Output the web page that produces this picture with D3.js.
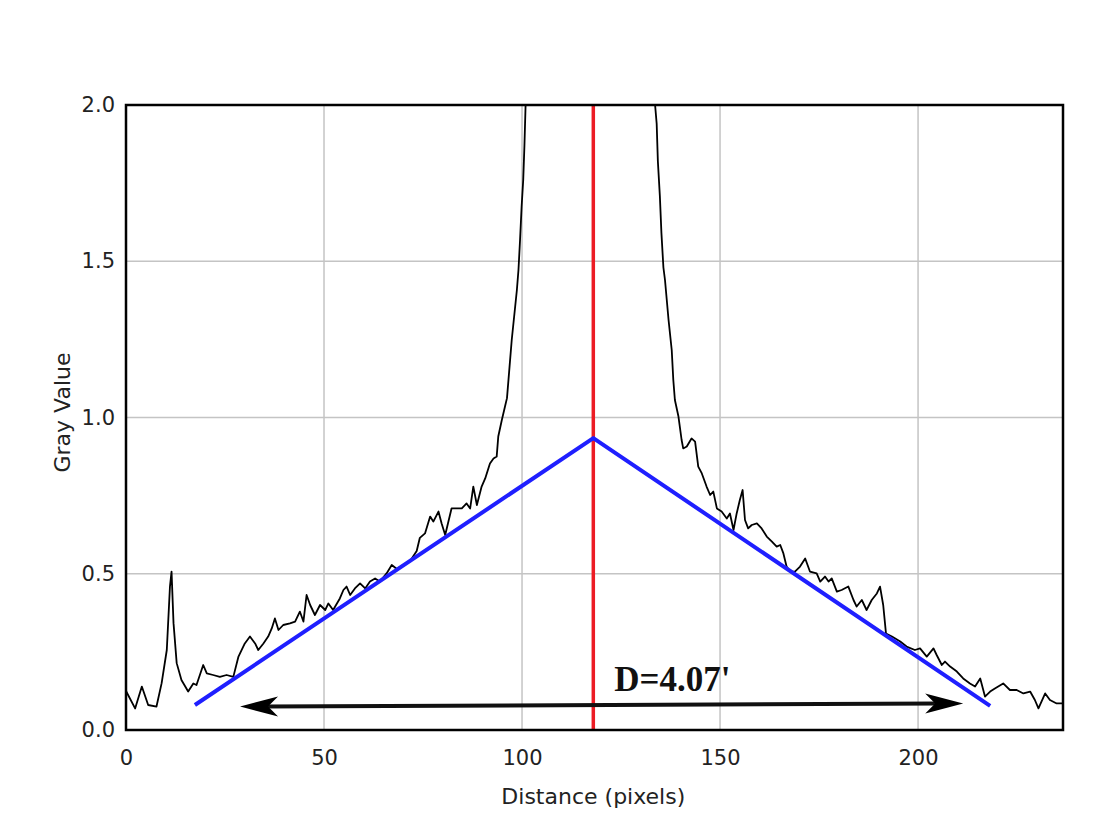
<!DOCTYPE html>
<html>
<head>
<meta charset="utf-8">
<script src="https://cdn.jsdelivr.net/npm/d3@7"></script>
<style>
  body { margin: 0; background: #fff; }
  .tick text { font-family: "DejaVu Sans", sans-serif; font-size: 21px; fill: #222; }
  .axisTitle { font-family: "DejaVu Sans", sans-serif; font-size: 22px; fill: #222; }
</style>
</head>
<body>
<div class="chartWrap"></div>
<script>
const profileX = [0, 2.3, 4, 5.6, 7.7, 9, 10.3, 11.1, 11.5, 12, 12.8, 14, 15.7, 17, 17.8, 19.5, 20.4, 22, 23.7, 25.4,
  27.1, 28.4, 30, 31.3, 32.6, 33.4, 34.7, 35.9, 36.8, 37.6, 38.5, 39.7, 41.4, 42.7, 43.9, 44.8, 45.6, 46.5, 47.7, 49,
  50.3, 51.1, 52.3, 54, 54.9, 55.7, 56.6, 57.8, 59.1, 60.4, 61.6, 62.9, 64.1, 65.8, 67.1, 68.4, 70, 71.7, 73.4, 74.2,
  75.5, 76.8, 77.6, 78.9, 79.7, 80.6, 82.2, 83.1, 84.8, 86, 86.9, 87.7, 88.6, 89.8, 90.7, 91.9, 92.8, 93.6, 94, 94.9,
  95.7, 96.2, 97.4, 98.7, 99.1, 99.5, 99.9, 100.3, 100.6, 100.9, 101.3, 133.3, 133.6, 134, 134.3, 134.8, 135.2, 135.7,
  136.1, 137, 137.8, 138.2, 138.6, 139.5, 140.3, 140.7, 141.6, 142.8, 143.7, 144.5, 145.4, 146.6, 147.5, 148.3, 149.2,
  150.4, 151.7, 152.5, 153.4, 154.2, 155, 155.7, 156.3, 157.1, 158, 159.3, 160.5, 161.8, 163.1, 164.3, 165.2, 166,
  166.8, 167.7, 168.9, 170.2, 171.5, 172.7, 174.4, 175.3, 176.5, 177.4, 178.2, 179.5, 180.7, 182.4, 183.7, 184.5,
  185.8, 187, 188.3, 189.6, 190.4, 191.2, 191.9, 193.4, 195.5, 197.1, 199.2, 200.5, 202.2, 203.9, 204.7, 206, 206.8,
  208.1, 209.8, 211.4, 213.1, 214.4, 215.7, 216.9, 218.2, 219.4, 221.5, 223.2, 224.9, 226.6, 228.3, 229.5, 230.4,
  232.1, 233.3, 235, 236.6];
const profileY = [0.125, 0.069, 0.139, 0.08, 0.075, 0.15, 0.256, 0.459, 0.507, 0.342, 0.214, 0.16, 0.123, 0.149, 0.144, 0.208, 0.181, 0.176, 0.17, 0.176,
  0.17, 0.235, 0.277, 0.299, 0.277, 0.256, 0.277, 0.299, 0.325, 0.357, 0.32, 0.336, 0.341, 0.347, 0.379, 0.347, 0.432, 0.4, 0.368, 0.4,
  0.384, 0.405, 0.384, 0.421, 0.448, 0.459, 0.432, 0.453, 0.469, 0.453, 0.475, 0.485, 0.475, 0.501, 0.528, 0.515, 0.528, 0.54, 0.573, 0.615,
  0.629, 0.683, 0.667, 0.699, 0.661, 0.624, 0.709, 0.709, 0.709, 0.725, 0.709, 0.779, 0.72, 0.779, 0.805, 0.853, 0.869, 0.875, 0.939, 0.992,
  1.035, 1.062, 1.248, 1.408, 1.472, 1.568, 1.675, 1.76, 1.867, 2.0, 2.1, 2.1, 2.0, 1.94, 1.82, 1.71, 1.59, 1.48,
  1.44, 1.312, 1.216, 1.12, 1.056, 1.003, 0.928, 0.901, 0.907, 0.933, 0.923, 0.843, 0.821, 0.779, 0.752, 0.763, 0.709,
  0.699, 0.677, 0.693, 0.64, 0.693, 0.736, 0.768, 0.672, 0.645, 0.656, 0.661, 0.645, 0.619, 0.603, 0.587, 0.592, 0.565,
  0.523, 0.507, 0.507, 0.523, 0.549, 0.507, 0.501, 0.475, 0.491, 0.475, 0.485, 0.443, 0.448, 0.459, 0.416, 0.395,
  0.416, 0.384, 0.416, 0.437, 0.459, 0.4, 0.309, 0.299, 0.283, 0.267, 0.256, 0.261, 0.235, 0.261, 0.24, 0.208, 0.219,
  0.203, 0.187, 0.165, 0.149, 0.139, 0.165, 0.107, 0.123, 0.133, 0.149, 0.128, 0.128, 0.117, 0.123, 0.096, 0.069,
  0.117, 0.096, 0.085, 0.085];
//Fitted triangle (blue), centre line (red), distance arrow
const fitX = [17.4, 118, 218.2],
      fitY = [0.08, 0.934, 0.077];
const centreX = 118;
const arrowX = [28.8, 211.4],
      arrowY = [0.075, 0.085];
const labelText = "D=4.07'", labelX = 123.3, labelY = 0.126;
//Axes
const xTicks = [0, 50, 100, 150, 200],
      yTicks = [0, 0.5, 1.0, 1.5, 2.0];
const xMax = 236.6, yMax = 2.0;

let margin = {top: 105, right: 37, bottom: 83, left: 126},
    W = 1100, H = 813,
    w = W - margin.left - margin.right,
    h = H - margin.top - margin.bottom;

let svg = d3.select(".chartWrap").append("svg").attr("width", W).attr("height", H);
let g = svg.append("g").attr("transform", "translate(" + margin.left + "," + margin.top + ")");

let x = d3.scaleLinear().domain([0, xMax]).range([0, w]);
let y = d3.scaleLinear().domain([0, yMax]).range([h, 0]);

//Grid
g.append("g").selectAll("line").data(xTicks.slice(1)).enter().append("line")
  .attr("x1", d => x(d)).attr("x2", d => x(d)).attr("y1", 0).attr("y2", h)
  .attr("stroke", "#c4c4c4").attr("stroke-width", 1.5);
g.append("g").selectAll("line").data(yTicks.slice(1, -1)).enter().append("line")
  .attr("y1", d => y(d)).attr("y2", d => y(d)).attr("x1", 0).attr("x2", w)
  .attr("stroke", "#c4c4c4").attr("stroke-width", 1.5);

//Axes (labels only)
let xAxis = g.append("g").attr("transform", "translate(0," + h + ")")
  .call(d3.axisBottom(x).tickValues(xTicks).tickFormat(d3.format("d")).tickSize(0).tickPadding(20));
xAxis.select(".domain").remove();
let yAxis = g.append("g")
  .call(d3.axisLeft(y).tickValues(yTicks).tickFormat(d3.format(".1f")).tickSize(0).tickPadding(11));
yAxis.select(".domain").remove();

//Clip
svg.append("defs").append("clipPath").attr("id", "plotClip")
  .append("rect").attr("width", w).attr("height", h);

//Profile
let profile = profileX.map((d, i) => [d, profileY[i]]);
let line = d3.line().x(d => x(d[0])).y(d => y(d[1]));
g.append("path").datum(profile).attr("d", line)
  .attr("clip-path", "url(#plotClip)")
  .attr("fill", "none").attr("stroke", "#000").attr("stroke-width", 1.8).attr("stroke-linejoin", "round");

//Red centre line
g.append("line").attr("x1", x(centreX)).attr("x2", x(centreX)).attr("y1", y(0)).attr("y2", y(yMax))
  .attr("stroke", "#ec1c24").attr("stroke-width", 3.5);

//Blue fit
let fit = fitX.map((d, i) => [d, fitY[i]]);
g.append("path").datum(fit).attr("d", line)
  .attr("fill", "none").attr("stroke", "#1f1fff").attr("stroke-width", 4).attr("stroke-linejoin", "round");

//Arrow
let ax0 = x(arrowX[0]), ay0 = y(arrowY[0]), ax1 = x(arrowX[1]), ay1 = y(arrowY[1]);
let ang = Math.atan2(ay1 - ay0, ax1 - ax0);
function head(tx, ty, a) {
  //barbed arrowhead pointing along angle a
  let L = 38, Wd = 10, N = 28;
  let c = Math.cos(a), s = Math.sin(a);
  let p = (u, v) => [tx - u * c - v * s, ty - u * s + v * c];
  return [p(0, 0), p(L, -Wd), p(N, 0), p(L, Wd)];
}
g.append("line").attr("x1", ax0 + 25 * Math.cos(ang)).attr("y1", ay0 + 25 * Math.sin(ang))
  .attr("x2", ax1 - 25 * Math.cos(ang)).attr("y2", ay1 - 25 * Math.sin(ang))
  .attr("stroke", "#111").attr("stroke-width", 4);
g.selectAll(".head").data([head(ax1, ay1, ang), head(ax0, ay0, ang + Math.PI)]).enter()
  .append("polygon").attr("class", "head")
  .attr("points", d => d.map(p => p.join(",")).join(" "))
  .attr("fill", "#000");

//Label
g.append("text").text(labelText).attr("x", x(labelX)).attr("y", y(labelY))
  .attr("font-family", "'Liberation Serif', 'Times New Roman', serif").attr("font-weight", "bold")
  .attr("font-size", 35).attr("fill", "#111");

//Frame
g.append("rect").attr("width", w).attr("height", h)
  .attr("fill", "none").attr("stroke", "#000").attr("stroke-width", 2.5);

//Axis titles
svg.append("text").attr("class", "axisTitle").text("Distance (pixels)")
  .attr("x", margin.left + x(118)).attr("y", 804).attr("text-anchor", "middle");
svg.append("text").attr("class", "axisTitle").text("Gray Value")
  .attr("transform", "translate(70," + (margin.top + h / 2 - 5) + ") rotate(-90)").attr("text-anchor", "middle");
</script>
</body>
</html>
